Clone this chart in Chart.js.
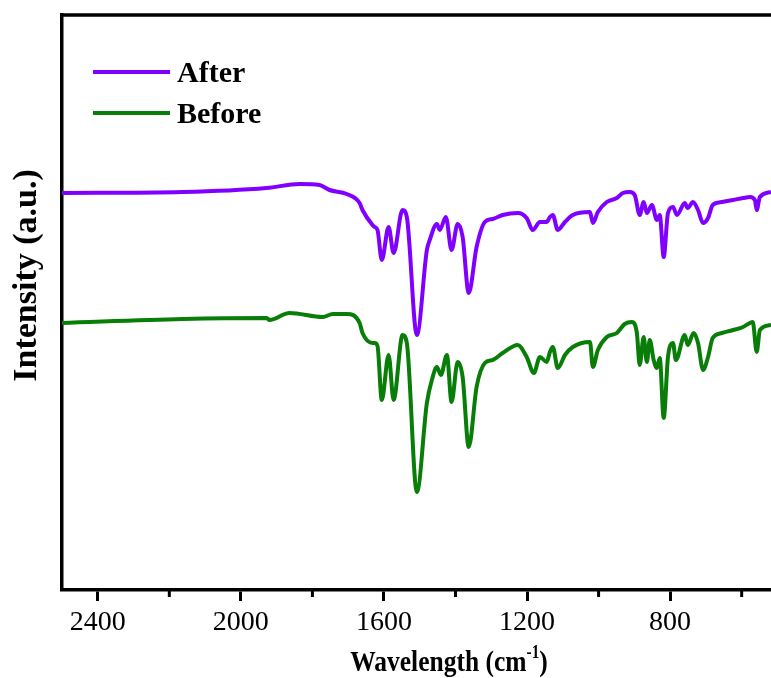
<!DOCTYPE html>
<html lang="en">
<head>
  <meta charset="UTF-8">
  <title>FTIR Before / After</title>
  <script src="https://cdn.jsdelivr.net/npm/chart.js"></script>
  <style>
    html, body { margin: 0; padding: 0; background: #fff; }
    #wrap { width: 771px; height: 678px; }
  </style>
</head>
<body>
  <div id="wrap"><canvas id="ftirChart"></canvas></div>

  <script>
    // spectra (wavenumber in cm-1, intensity in a.u.)
    const afterWn = [2500, 2163, 1928, 1836, 1780, 1752, 1704, 1668, 1660, 1632, 1626, 1618, 1606, 1587, 1573, 1548, 1536, 1508, 1480, 1472, 1452, 1444, 1427, 1411, 1394, 1380, 1363, 1341, 1318, 1296, 1268, 1226, 1201, 1184, 1164, 1145, 1136, 1128, 1114, 1094, 1072, 1024, 1016, 1002, 977, 949, 932, 913, 899, 885, 874, 865, 851, 837, 829, 818, 806, 792, 781, 759, 751, 736, 722, 708, 694, 681, 655, 624, 596, 577, 563, 558, 549, 518];
    const afterInt = [397, 398, 402, 406, 405, 400, 396, 387, 380, 365, 363, 360, 330, 363, 337, 380, 373, 255, 340, 350, 366, 360, 373, 340, 366, 353, 297, 343, 368, 371, 375, 377, 372, 360, 368, 368, 373, 375, 360, 368, 375, 378, 367, 378, 388, 392, 397, 398, 395, 375, 388, 377, 385, 370, 375, 333, 377, 383, 375, 387, 382, 388, 380, 367, 372, 385, 388, 390, 392, 393, 390, 380, 393, 398];

    const beforeWn = [2500, 2163, 1928, 1920, 1864, 1771, 1743, 1704, 1668, 1660, 1632, 1626, 1618, 1606, 1587, 1573, 1548, 1536, 1508, 1480, 1466, 1452, 1441, 1424, 1411, 1394, 1380, 1363, 1341, 1318, 1296, 1268, 1226, 1201, 1181, 1164, 1145, 1136, 1128, 1114, 1094, 1072, 1024, 1016, 1002, 977, 949, 927, 907, 893, 885, 874, 865, 857, 846, 837, 829, 818, 806, 792, 784, 759, 751, 734, 722, 708, 694, 681, 655, 624, 596, 577, 569, 558, 549, 518];
    const beforeInt = [267, 271, 272, 270, 277, 273, 276, 276, 267, 257, 247, 247, 244, 190, 235, 190, 255, 247, 98, 187, 210, 223, 215, 235, 188, 228, 213, 143, 203, 227, 230, 237, 245, 233, 217, 233, 228, 238, 243, 222, 235, 243, 248, 223, 240, 253, 257, 266, 268, 257, 225, 253, 228, 250, 230, 222, 232, 172, 233, 247, 230, 255, 245, 257, 247, 220, 233, 252, 257, 260, 263, 267, 268, 238, 260, 265];

    const seriesNames = ['After', 'Before'];
    const seriesColors = ['#8000ff', '#087d08'];
    const xTickValues = [2400, 2000, 1600, 1200, 800];
    const xMinorTicks = [2200, 1800, 1400, 1000, 600];

    const serif = "'Times New Roman', 'Liberation Serif', serif";

    const toPoints = (xs, ys) => xs.map((x, i) => ({ x: x, y: ys[i] }));

    // frame top line, minor ticks, legend and axis titles
    const decorations = {
      id: 'decorations',
      afterDraw(chart) {
        const ctx = chart.ctx;
        const area = chart.chartArea;
        const xs = chart.scales.x;
        ctx.save();
        ctx.strokeStyle = '#000';
        ctx.lineWidth = 3.5;
        ctx.beginPath();
        ctx.moveTo(area.left - 1.75, area.top);
        ctx.lineTo(area.right, area.top);
        ctx.stroke();

        ctx.lineWidth = 3;
        xMinorTicks.forEach(v => {
          const px = xs.getPixelForValue(v);
          ctx.beginPath();
          ctx.moveTo(px, area.bottom);
          ctx.lineTo(px, area.bottom + 7);
          ctx.stroke();
        });

        // legend
        chart.data.datasets.forEach((ds, i) => {
          const y = 72 + i * 41;
          ctx.strokeStyle = ds.borderColor;
          ctx.lineWidth = 4;
          ctx.beginPath();
          ctx.moveTo(area.left + 31, y);
          ctx.lineTo(area.left + 108, y);
          ctx.stroke();
          ctx.fillStyle = '#000';
          ctx.font = 'bold 30px ' + serif;
          ctx.textAlign = 'left';
          ctx.textBaseline = 'alphabetic';
          ctx.fillText(ds.label, area.left + 115, y + 10);
        });

        // x title with superscript, slightly condensed like the original
        ctx.fillStyle = '#000';
        ctx.textBaseline = 'alphabetic';
        ctx.textAlign = 'left';
        const mainFont = 'bold 30px ' + serif;
        const supFont = 'bold 18px ' + serif;
        ctx.font = mainFont;
        const p1 = 'Wavelength (cm';
        const w1 = ctx.measureText(p1).width;
        ctx.font = supFont;
        const w2 = ctx.measureText('-1').width;
        ctx.font = mainFont;
        const w3 = ctx.measureText(')').width;
        const sx = 0.85;
        const total = (w1 + w2 + w3) * sx;
        ctx.save();
        ctx.translate(449 - total / 2, 671);
        ctx.scale(sx, 1);
        ctx.fillText(p1, 0, 0);
        ctx.font = supFont;
        ctx.fillText('-1', w1, -13);
        ctx.font = mainFont;
        ctx.fillText(')', w1 + w2, 0);
        ctx.restore();

        // y title
        ctx.translate(36, (area.top + area.bottom) / 2 - 27);
        ctx.rotate(-Math.PI / 2);
        ctx.font = 'bold 34px ' + serif;
        ctx.textAlign = 'center';
        ctx.fillText('Intensity (a.u.)', 0, 0);
        ctx.restore();
      }
    };

    const ctx = document.getElementById('ftirChart').getContext('2d');
    new Chart(ctx, {
      type: 'line',
      data: {
        datasets: [
          {
            label: seriesNames[0],
            data: toPoints(afterWn, afterInt),
            borderColor: seriesColors[0],
            borderWidth: 4,
            pointRadius: 0,
            cubicInterpolationMode: 'monotone'
          },
          {
            label: seriesNames[1],
            data: toPoints(beforeWn, beforeInt),
            borderColor: seriesColors[1],
            borderWidth: 4,
            pointRadius: 0,
            cubicInterpolationMode: 'monotone'
          }
        ]
      },
      options: {
        responsive: true,
        maintainAspectRatio: false,
        animation: false,
        layout: { padding: { left: 62, top: 15, right: 0, bottom: 0 } },
        plugins: {
          legend: { display: false },
          tooltip: { enabled: false }
        },
        scales: {
          x: {
            type: 'linear',
            position: 'bottom',
            reverse: true,
            min: 518,
            max: 2500,
            afterBuildTicks: scale => {
              scale.ticks = xTickValues.map(v => ({ value: v }));
            },
            afterFit: scale => { scale.height = 88; },
            grid: {
              drawOnChartArea: false,
              drawTicks: true,
              tickLength: 11,
              tickWidth: 3,
              tickColor: '#000'
            },
            border: { display: true, color: '#000', width: 3.5 },
            ticks: {
              color: '#000',
              padding: 5,
              maxRotation: 0,
              autoSkip: false,
              font: { family: serif, size: 28 },
              callback: v => String(v)
            }
          },
          y: {
            min: 0,
            max: 575,
            afterFit: scale => { scale.width = 0; },
            grid: { drawOnChartArea: false, drawTicks: false },
            border: { display: true, color: '#000', width: 3.5 },
            ticks: { display: false }
          }
        }
      },
      plugins: [decorations]
    });
  </script>
</body>
</html>
